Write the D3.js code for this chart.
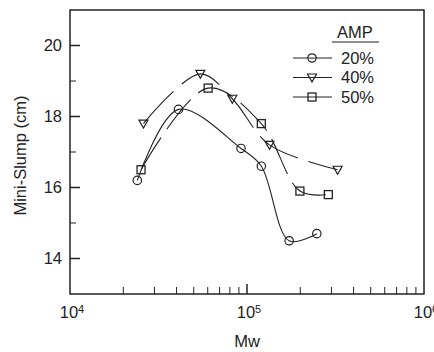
<!DOCTYPE html>
<html>
<head>
<meta charset="utf-8">
<script src="https://cdn.jsdelivr.net/npm/d3@7"></script>
<style>
  body { margin: 0; background: #fff; }
  text { font-family: "Liberation Sans", Arial, sans-serif; fill: #222; }
</style>
</head>
<body>
<svg id="chart"></svg>
<script>
// Data (Mw, mini-slump in cm)
const amp20 = [[24000, 16.2], [41000, 18.2], [92500, 17.1], [120500, 16.6], [173000, 14.5], [248000, 14.7]];
const amp40 = [[26000, 17.8], [54500, 19.2], [82600, 18.5], [134000, 17.2], [325000, 16.5]];
const amp50 = [[25200, 16.5], [60300, 18.8], [120500, 17.8], [199000, 15.9], [288000, 15.8]];
const seriesNames = ['20%', '40%', '50%'];
const yTicks = [14, 16, 18, 20];
const xTicks = [1e4, 1e5, 1e6];

const width = 434, height = 352;
const margin = { top: 10, right: 10, bottom: 58, left: 70 };
const w = width - margin.left - margin.right;
const h = height - margin.top - margin.bottom;
const fs = '16.5px';

const svg = d3.select('#chart').attr('width', width).attr('height', height);
const g = svg.append('g').attr('transform', `translate(${margin.left},${margin.top})`);

const x = d3.scaleLog().domain([1e4, 1e6]).range([0, w]);
const y = d3.scaleLinear().domain([13, 21]).range([h, 0]);

// frame
g.append('rect').attr('width', w).attr('height', h)
  .attr('fill', 'none').attr('stroke', '#222').attr('stroke-width', 1.5);

// y ticks (inward), majors every 2, minors between
d3.range(14, 21, 1).forEach(v => {
  const major = v % 2 === 0;
  g.append('line').attr('x1', 0).attr('x2', major ? 10 : 6)
    .attr('y1', y(v)).attr('y2', y(v))
    .attr('stroke', '#222').attr('stroke-width', major ? 1.5 : 1);
});
g.selectAll('.ylab').data(yTicks).enter().append('text')
  .attr('x', -8).attr('y', d => y(d)).attr('dy', '0.36em')
  .attr('text-anchor', 'end').style('font-size', fs).text(d => d);

// x ticks (inward), minors 2..9 in each decade
[1e4, 1e5].forEach(dec => {
  d3.range(2, 10).forEach(m => {
    g.append('line').attr('x1', x(dec * m)).attr('x2', x(dec * m))
      .attr('y1', h).attr('y2', h - 7).attr('stroke', '#222').attr('stroke-width', 1);
  });
});
g.append('line').attr('x1', x(1e5)).attr('x2', x(1e5)).attr('y1', h).attr('y2', h - 10)
  .attr('stroke', '#222').attr('stroke-width', 1.5);

const xl = g.selectAll('.xlab').data(xTicks).enter().append('text')
  .attr('x', d => x(d) + 2).attr('y', h + 24)
  .attr('text-anchor', 'middle').style('font-size', fs);
xl.append('tspan').text('10');
xl.append('tspan').attr('dy', '-0.45em').style('font-size', '11px').text(d => Math.round(Math.log10(d)));

// axis titles
svg.append('text').attr('x', margin.left + x(1e5)).attr('y', 347)
  .attr('text-anchor', 'middle').style('font-size', fs).text('Mw');
svg.append('text').attr('transform', `translate(26,${margin.top + y(16.9)}) rotate(-90)`)
  .attr('text-anchor', 'middle').style('font-size', fs).text('Mini-Slump (cm)');

// curves
const line = d3.line().x(d => x(d[0])).y(d => y(d[1])).curve(d3.curveCatmullRom.alpha(0.5));
const all = [
  { data: amp20, marker: 'circle', dash: null },
  { data: amp40, marker: 'tri', dash: '44,11' },
  { data: amp50, marker: 'square', dash: '38,10' }
];

function drawMarker(sel, type, cx, cy) {
  if (type === 'circle') {
    sel.append('circle').attr('cx', cx).attr('cy', cy).attr('r', 4.2)
      .attr('fill', 'none').attr('stroke', '#222').attr('stroke-width', 1.2);
  } else if (type === 'tri') {
    sel.append('path').attr('d', `M${cx - 4.5},${cy - 3.5}L${cx + 4.5},${cy - 3.5}L${cx},${cy + 4.5}Z`)
      .attr('fill', 'none').attr('stroke', '#222').attr('stroke-width', 1.2);
  } else {
    sel.append('rect').attr('x', cx - 4).attr('y', cy - 4).attr('width', 8).attr('height', 8)
      .attr('fill', 'none').attr('stroke', '#222').attr('stroke-width', 1.3);
  }
}

all.forEach(s => {
  g.append('path').datum(s.data).attr('d', line)
    .attr('fill', 'none').attr('stroke', '#222').attr('stroke-width', 1.1)
    .attr('stroke-dasharray', s.dash);
  s.data.forEach(d => drawMarker(g, s.marker, x(d[0]), y(d[1])));
});

// legend
const lg = svg.append('g');
lg.append('text').attr('x', 355).attr('y', 38).attr('text-anchor', 'middle')
  .style('font-size', fs).text('AMP');
lg.append('line').attr('x1', 332).attr('x2', 379).attr('y1', 42).attr('y2', 42)
  .attr('stroke', '#222').attr('stroke-width', 1.2);
seriesNames.forEach((name, i) => {
  const ly = 58 + i * 19.5;
  lg.append('line').attr('x1', 293).attr('x2', 332).attr('y1', ly).attr('y2', ly)
    .attr('stroke', '#222').attr('stroke-width', 1.1);
  drawMarker(lg, all[i].marker, 312, ly);
  lg.append('text').attr('x', 341).attr('y', ly).attr('dy', '0.36em')
    .style('font-size', fs).text(name);
});
</script>
</body>
</html>
